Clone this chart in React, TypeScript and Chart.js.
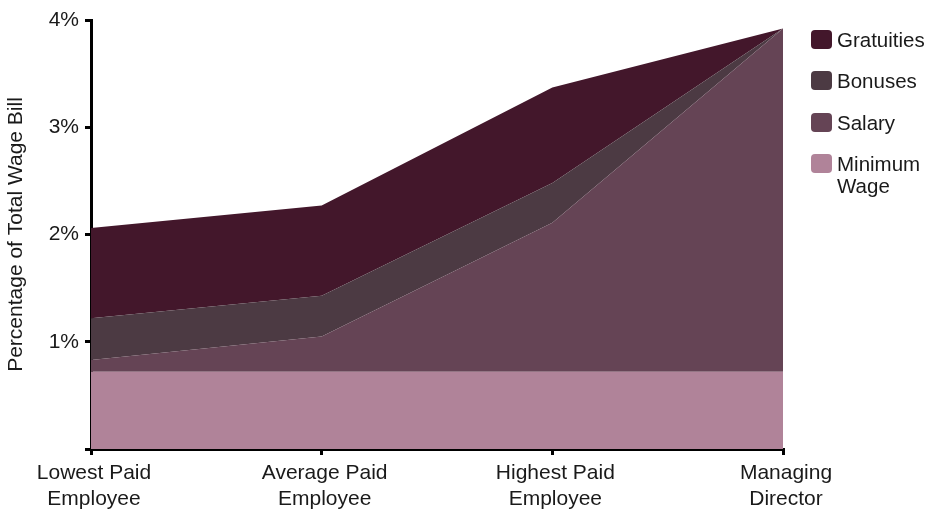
import React, { useEffect, useRef } from "react";
import { Chart, registerables } from "chart.js";

Chart.register(...registerables);

const categories: string[][] = [
  ["Lowest Paid", "Employee"],
  ["Average Paid", "Employee"],
  ["Highest Paid", "Employee"],
  ["Managing", "Director"],
];

// Individual (stacked) shares, in percent of the total wage bill
const minimumWage = [0.72, 0.72, 0.72, 0.72];
const salary = [0.11, 0.33, 1.39, 3.2];
const bonuses = [0.39, 0.38, 0.37, 0];
const gratuities = [0.84, 0.84, 0.89, 0];

const yTicks = [0, 1, 2, 3, 4];

const FONT = '"Liberation Sans", Arial, Helvetica, sans-serif';

const legendItems = [
  { label: ["Gratuities"], color: "#43172b" },
  { label: ["Bonuses"], color: "#4c3a43" },
  { label: ["Salary"], color: "#654455" },
  { label: ["Minimum", "Wage"], color: "#b08399" },
];

export default function App() {
  const ref = useRef<HTMLCanvasElement>(null);

  useEffect(() => {
    if (!ref.current) return;
    const chart = new Chart(ref.current, {
      type: "line",
      data: {
        labels: categories as any,
        datasets: [
          { label: "Minimum Wage", data: minimumWage, backgroundColor: "#b08399", fill: "origin" },
          { label: "Salary", data: salary, backgroundColor: "#654455", fill: "-1" },
          { label: "Bonuses", data: bonuses, backgroundColor: "#4c3a43", fill: "-1" },
          { label: "Gratuities", data: gratuities, backgroundColor: "#43172b", fill: "-1" },
        ].map((d) => ({
          ...d,
          borderWidth: 0,
          borderColor: d.backgroundColor,
          pointRadius: 0,
          tension: 0,
        })),
      },
      options: {
        responsive: false,
        animation: false,
        layout: { padding: { left: 4, top: 20, right: 146, bottom: 0 } },
        plugins: { legend: { display: false }, tooltip: { enabled: false } },
        scales: {
          x: {
            offset: false,
            border: { color: "#000", width: 3 },
            grid: { drawOnChartArea: false, color: "#000", lineWidth: 3, tickLength: 6 },
            ticks: {
              color: "#1a1a1a",
              font: { family: FONT, size: 21, lineHeight: 1.2 },
              padding: 6,
              labelOffset: 3,
              maxRotation: 0,
              autoSkip: false,
            },
            afterFit: (s: any) => {
              s.height = 60;
            },
          },
          y: {
            stacked: true,
            min: 0,
            max: 4,
            afterBuildTicks: (s: any) => {
              s.ticks = yTicks.map((v) => ({ value: v }));
            },
            border: { color: "#000", width: 3 },
            grid: { drawOnChartArea: false, color: "#000", lineWidth: 3, tickLength: 6 },
            ticks: {
              color: "#1a1a1a",
              font: { family: FONT, size: 21 },
              padding: 6,
              callback: (v: any) => (Number(v) === 0 ? "" : `${v}%`),
            },
            title: {
              display: true,
              text: "Percentage of Total Wage Bill",
              color: "#1a1a1a",
              font: { family: FONT, size: 21 },
              padding: { top: 0, bottom: 6 },
            },
            afterFit: (s: any) => {
              s.width = 87;
            },
          },
        },
      },
    });
    return () => chart.destroy();
  }, []);

  return (
    <div style={{ position: "absolute", left: 0, top: 0, width: 929, height: 509, background: "#fff" }}>
      <canvas ref={ref} width={929} height={509} style={{ position: "absolute", left: 0, top: 0 }} />
      {legendItems.map((it, i) => (
        <div
          key={i}
          style={{
            position: "absolute",
            left: 811,
            top: 30 + i * 41.3,
            display: "flex",
            alignItems: "flex-start",
            fontFamily: FONT,
            fontSize: 20.5,
            color: "#1a1a1a",
            lineHeight: "22px",
          }}
        >
          <div
            style={{
              width: 21,
              height: 19,
              borderRadius: 4,
              background: it.color,
              marginRight: 5,
              flex: "none",
            }}
          />
          <div style={{ marginTop: -1 }}>
            {it.label.map((l, j) => (
              <div key={j}>{l}</div>
            ))}
          </div>
        </div>
      ))}
    </div>
  );
}
